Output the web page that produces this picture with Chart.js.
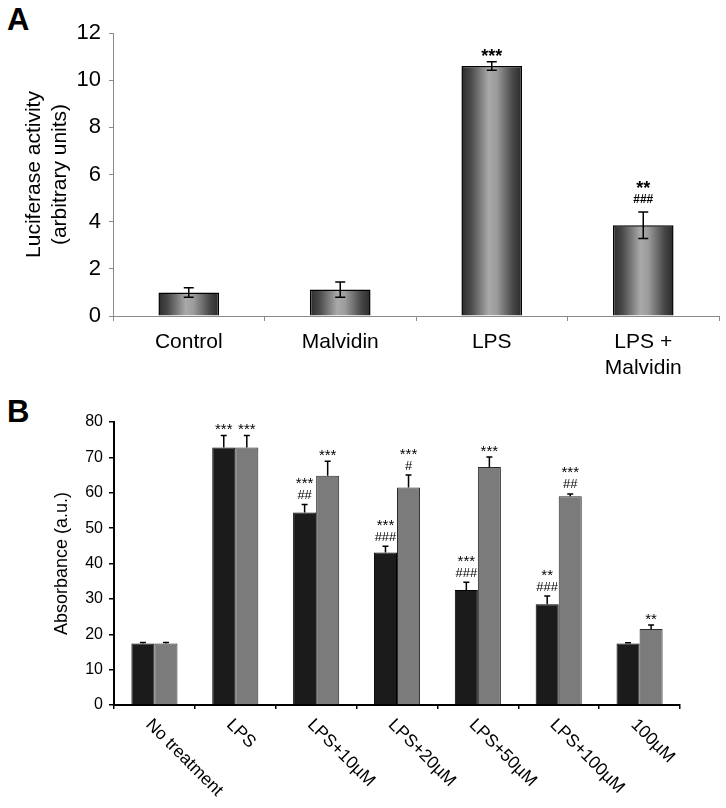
<!DOCTYPE html>
<html>
<head>
<meta charset="utf-8">
<script src="https://cdn.jsdelivr.net/npm/chart.js@4.4.1/dist/chart.umd.min.js"></script>
<style>
  body { margin: 0; background: #fff; width: 726px; height: 808px; position: relative; overflow: hidden;
         font-family: Arial, "Liberation Sans", sans-serif; }
  .letter { position: absolute; font-weight: bold; font-size: 31px; line-height: 31px; color: #000; }
  #chartA { position: absolute; left: 0; top: 0; }
  #chartB { position: absolute; left: 0; top: 382px; }
</style>
</head>
<body>
<div class="letter" style="left:7px; top:4px">A</div>
<div class="letter" style="left:7px; top:396px">B</div>
<canvas id="chartA" width="726" height="382"></canvas>
<canvas id="chartB" width="726" height="426"></canvas>
<script>
// panel A - luciferase
var catA = ['Control', 'Malvidin', 'LPS', ['LPS +', 'Malvidin']];
var valA = [1.0, 1.12, 10.6, 3.85];
var errA = [0.2, 0.32, 0.18, 0.56];
var marksA = ['', '', '***', '**\n###'];
var ticksA = [0, 2, 4, 6, 8, 10, 12];

// panel B - absorbance, two series per group
var catB = ['No treatment', 'LPS', 'LPS+10µM', 'LPS+20µM', 'LPS+50µM', 'LPS+100µM', '100µM'];
var valB1 = [17.4, 72.8, 54.4, 43.1, 32.5, 28.5, 17.4];
var errB1 = [0.3, 3.4, 2.3, 1.8, 2.2, 2.3, 0.2];
var marksB1 = ['', '***', '***\n##', '***\n###', '***\n###', '**\n###', ''];
var valB2 = [17.4, 72.8, 64.8, 61.5, 67.3, 59.0, 21.5];
var errB2 = [0.3, 3.4, 4.1, 3.5, 2.8, 0.65, 1.1];
var marksB2 = ['', '***', '***', '***\n#', '***', '***\n##', '**'];

var FONT = 'Arial, "Liberation Sans", sans-serif';

// horizontal dark-light-dark fill for the panel A bars
function barGradient(ctx) {
    var chart = ctx.chart;
    var xs = chart.scales.x;
    if (!xs || ctx.type !== 'data' || !xs.width) return '#777';
    var cx = xs.getPixelForValue(ctx.dataIndex);
    var half = xs.width / catA.length * 0.4 / 2;
    var g = chart.ctx.createLinearGradient(cx - half, 0, cx + half, 0);
    g.addColorStop(0, '#2c2c2c');
    g.addColorStop(0.15, '#484848');
    g.addColorStop(0.45, '#a9a9a9');
    g.addColorStop(0.58, '#9c9c9c');
    g.addColorStop(0.85, '#474747');
    g.addColorStop(1, '#2a2a2a');
    return g;
}

// error bars + significance marks
var errPlugin = {
    id: 'errbars',
    afterDatasetsDraw: function (chart, args, opts) {
        var c = chart.ctx;
        var ys = chart.scales.y;
        c.save();
        chart.data.datasets.forEach(function (ds, di) {
            var meta = chart.getDatasetMeta(di);
            meta.data.forEach(function (bar, i) {
                var v = ds.data[i], e = ds.errors[i];
                var top = ys.getPixelForValue(v + e);
                var bottom = opts.both ? ys.getPixelForValue(v - e) : ys.getPixelForValue(v);
                c.strokeStyle = '#000';
                c.lineWidth = opts.lineWidth;
                c.beginPath();
                c.moveTo(bar.x, top);
                c.lineTo(bar.x, bottom);
                c.moveTo(bar.x - opts.cap, top);
                c.lineTo(bar.x + opts.cap, top);
                if (opts.both) {
                    c.moveTo(bar.x - opts.cap, bottom);
                    c.lineTo(bar.x + opts.cap, bottom);
                }
                c.stroke();

                var mark = ds.marks[i];
                if (!mark) return;
                var lines = mark.split('\n').reverse();
                c.fillStyle = '#000';
                c.textAlign = 'center';
                c.textBaseline = 'alphabetic';
                var y = top;
                lines.forEach(function (ln, k) {
                    var isHash = ln.charAt(0) === '#';
                    if (k === 0) {
                        y = top - (isHash ? opts.hashLift : opts.starLift);
                    } else {
                        y -= opts.stack;
                    }
                    c.font = isHash ? opts.hashFont : opts.starFont;
                    c.fillText(ln, bar.x, y);
                });
            });
        });
        c.restore();
    }
};

// slanted category labels for panel B
var slantPlugin = {
    id: 'slant',
    afterDraw: function (chart, args, opts) {
        if (!opts.on) return;
        var c = chart.ctx;
        var xs = chart.scales.x;
        c.save();
        c.font = opts.font;
        c.fillStyle = '#000';
        c.textAlign = 'left';
        c.textBaseline = 'middle';
        chart.data.labels.forEach(function (lbl, i) {
            c.save();
            c.translate(xs.getPixelForTick(i) + opts.dx, xs.top + opts.dy);
            c.rotate(Math.PI / 4);
            c.fillText(lbl, 0, 0);
            c.restore();
        });
        c.restore();
    }
};

new Chart(document.getElementById('chartA'), {
    type: 'bar',
    data: {
        labels: catA,
        datasets: [{
            data: valA,
            errors: errA,
            marks: marksA,
            backgroundColor: barGradient,
            borderColor: '#000',
            borderWidth: 1.5,
            categoryPercentage: 0.4,
            barPercentage: 1
        }]
    },
    options: {
        responsive: false,
        animation: false,
        events: [],
        layout: { padding: { top: 33, right: 7, left: 0, bottom: 0 } },
        plugins: {
            legend: { display: false },
            tooltip: { enabled: false },
            errbars: { both: true, cap: 5, lineWidth: 1.5,
                       starFont: 'bold 18px ' + FONT, hashFont: 'bold 12px ' + FONT,
                       hashLift: 9, starLift: 0, stack: 9 },
            slant: { on: false }
        },
        scales: {
            x: {
                grid: { drawOnChartArea: false, drawTicks: true, tickLength: 5, color: '#8a8a8a', offset: true },
                border: { color: '#8a8a8a', width: 1 },
                ticks: { color: '#000', font: { size: 21, family: FONT }, padding: 9, maxRotation: 0, autoSkip: false },
                afterFit: function (s) { s.height = 66; }
            },
            y: {
                min: 0, max: 12,
                afterBuildTicks: function (s) { s.ticks = ticksA.map(function (v) { return { value: v }; }); },
                ticks: { color: '#000', font: { size: 22, family: FONT }, padding: 8 },
                grid: { drawOnChartArea: false, tickLength: 4, color: '#8a8a8a' },
                border: { color: '#8a8a8a', width: 1 },
                title: { display: true, text: ['Luciferase activity', '(arbitrary units)'], color: '#000',
                         font: { size: 21, family: FONT }, padding: { top: 22, bottom: 0 } },
                afterFit: function (s) { s.width = 113; }
            }
        }
    },
    plugins: [errPlugin, slantPlugin]
});

new Chart(document.getElementById('chartB'), {
    type: 'bar',
    data: {
        labels: catB,
        datasets: [{
            data: valB1,
            errors: errB1,
            marks: marksB1,
            backgroundColor: '#1b1b1b',
            borderColor: '#000',
            borderWidth: 1,
            categoryPercentage: 0.57,
            barPercentage: 1
        }, {
            data: valB2,
            errors: errB2,
            marks: marksB2,
            backgroundColor: '#7b7b7b',
            borderColor: '#2a2a2a',
            borderWidth: 1,
            categoryPercentage: 0.57,
            barPercentage: 1
        }]
    },
    options: {
        responsive: false,
        animation: false,
        events: [],
        layout: { padding: { top: 40, right: 46, left: 0, bottom: 0 } },
        plugins: {
            legend: { display: false },
            tooltip: { enabled: false },
            errbars: { both: false, cap: 3, lineWidth: 1.5,
                       starFont: '15px ' + FONT, hashFont: '13px ' + FONT,
                       hashLift: 5.5, starLift: 1.5, stack: 11 },
            slant: { on: true, font: '17.5px ' + FONT, dx: -6, dy: 17 }
        },
        scales: {
            x: {
                grid: { drawOnChartArea: false, drawTicks: true, tickLength: 4, color: '#000', lineWidth: 1.5, offset: true },
                border: { color: '#000', width: 2 },
                ticks: { display: false },
                afterFit: function (s) { s.height = 103; }
            },
            y: {
                min: 0, max: 80,
                ticks: { stepSize: 10, color: '#000', font: { size: 16, family: FONT }, padding: 6 },
                grid: { drawOnChartArea: false, tickLength: 5, color: '#000', lineWidth: 1.5 },
                border: { color: '#000', width: 2 },
                title: { display: true, text: 'Absorbance (a.u.)', color: '#000',
                         font: { size: 18, family: FONT }, padding: { top: 51, bottom: 0 } },
                afterFit: function (s) { s.width = 114; }
            }
        }
    },
    plugins: [errPlugin, slantPlugin]
});
</script>
</body>
</html>
